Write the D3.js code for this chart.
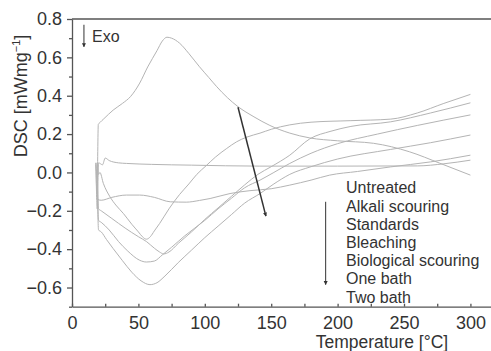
<!DOCTYPE html>
<html>
<head>
<meta charset="utf-8">
<style>
  body { margin: 0; background: #fff; }
  text { font-family: "Liberation Sans", Arial, sans-serif; fill: #333; }
</style>
</head>
<body>
<svg width="491" height="351"></svg>
<script src="https://d3js.org/d3.v7.min.js"></script>
<script>
// DSC curves, [temperature, value]
var untreated = [[18,0.05],[19,-0.03],[19.8,0.25],[21,0.26],[24,0.28],[31,0.325],[38,0.36],[44,0.395],[51,0.466],[57,0.55],[64,0.635],[68,0.685],[71.5,0.705],[75,0.70],[81,0.674],[88,0.62],[96,0.551],[103,0.495],[109,0.447],[117,0.39],[125,0.343],[137,0.29],[149,0.245],[164,0.205],[179,0.18],[200,0.165],[227,0.152],[254,0.108],[277,0.048],[300,-0.014]];
var alkali = [[18,0.05],[19,-0.19],[20,0.05],[23,0.04],[25,0.075],[28,0.062],[35,0.05],[41,0.047],[60,0.042],[90,0.038],[141,0.033],[200,0.033],[260,0.034],[280,0.045],[300,0.064]];
var standards = [[18,0.04],[19,-0.14],[22,-0.145],[30,-0.13],[41,-0.118],[51,-0.118],[62,-0.13],[74,-0.153],[86,-0.155],[96,-0.146],[104,-0.136],[119,-0.11],[134,-0.095],[150,-0.085],[164,-0.066],[180,-0.04],[194,-0.014],[215,0.005],[240,0.029],[270,0.055],[300,0.09]];
var bleaching = [[19,0.05],[20,-0.01],[21,0.0],[23.6,-0.057],[28.6,-0.127],[33,-0.17],[38.7,-0.214],[45,-0.27],[50,-0.31],[53,-0.335],[56,-0.348],[59,-0.335],[62,-0.305],[66,-0.266],[73,-0.19],[81,-0.115],[88,-0.06],[94,-0.01],[101,0.035],[108,0.08],[116.5,0.125],[124,0.16],[131.5,0.184],[141.6,0.205],[150,0.225],[164,0.248],[180,0.262],[210,0.27],[240,0.278],[260,0.31],[280,0.36],[300,0.407]];
var biological = [[19,0.0],[20,-0.19],[22,-0.2],[30,-0.24],[40,-0.29],[50,-0.335],[56,-0.36],[62,-0.395],[66,-0.415],[69,-0.425],[73,-0.415],[80,-0.37],[90,-0.31],[100,-0.245],[110,-0.185],[120,-0.125],[130,-0.065],[140,-0.01],[150,0.03],[164,0.09],[179,0.175],[195,0.215],[210,0.24],[240,0.264],[270,0.31],[300,0.363]];
var oneBath = [[19,-0.02],[20,-0.25],[22,-0.26],[28,-0.3],[35,-0.36],[42,-0.41],[51,-0.458],[56,-0.467],[62,-0.462],[68,-0.43],[75,-0.39],[85,-0.33],[100,-0.25],[110,-0.19],[120,-0.135],[130,-0.08],[141.6,-0.04],[152,0.0],[164,0.047],[180,0.1],[200,0.15],[230,0.2],[260,0.245],[300,0.3]];
var twoBath = [[19,-0.05],[20,-0.3],[22,-0.31],[26,-0.35],[31,-0.397],[38,-0.46],[45,-0.52],[52,-0.565],[58.7,-0.585],[64,-0.575],[70,-0.54],[80,-0.47],[90,-0.405],[100,-0.34],[110,-0.28],[120,-0.22],[130,-0.16],[141.6,-0.11],[152,-0.06],[164,-0.01],[180,0.03],[200,0.07],[240,0.12],[270,0.155],[300,0.195]];

var series = [untreated, alkali, standards, bleaching, biological, oneBath, twoBath];
var legendLabels = ["Untreated", "Alkali scouring", "Standards", "Bleaching", "Biological scouring", "One bath", "Two bath"];

var xMajor = [0, 50, 100, 150, 200, 250, 300];
var xMinor = [25, 75, 125, 175, 225, 275];
var yMajor = [-0.6, -0.4, -0.2, 0.0, 0.2, 0.4, 0.6, 0.8];
var yMinor = [-0.7, -0.5, -0.3, -0.1, 0.1, 0.3, 0.5, 0.7];

// arrows (data units)
var trendArrow = [[125, 0.34], [146, -0.228]];
var legendArrow = [[191, -0.153], [191, -0.585]];
var exoArrow = [[9, 0.77], [9, 0.655]];

var svg = d3.select("svg");

var x = d3.scaleLinear().domain([0, 315.5]).range([72, 491]);
var y = d3.scaleLinear().domain([-0.7, 0.8]).range([306.7, 19]);

var defs = svg.append("defs");
defs.append("marker")
    .attr("id", "head")
    .attr("viewBox", "0 0 10 10")
    .attr("refX", 9).attr("refY", 5)
    .attr("markerWidth", 4).attr("markerHeight", 5)
    .attr("markerUnits", "userSpaceOnUse")
    .attr("orient", "auto")
  .append("path")
    .attr("d", "M0,0L10,5L0,10z")
    .attr("fill", "#333");

// curves
var line = d3.line()
    .x(function(d){ return x(d[0]); })
    .y(function(d){ return y(d[1]); })
    .curve(d3.curveMonotoneX);

svg.append("g").selectAll("path")
    .data(series)
  .enter().append("path")
    .attr("d", line)
    .attr("fill", "none")
    .attr("stroke", "#b4b4b4")
    .attr("stroke-width", 1);

// axes
var yAxis = svg.append("g")
    .attr("transform", "translate(" + x(0) + ",0)")
    .call(d3.axisLeft(y).tickValues(yMajor).tickFormat(d3.format(".1f"))
        .tickSizeInner(5).tickSizeOuter(0).tickPadding(5));
svg.append("g")
    .attr("transform", "translate(" + x(0) + ",0)")
    .call(d3.axisLeft(y).tickValues(yMinor).tickFormat("").tickSizeInner(3).tickSizeOuter(0))
    .select(".domain").remove();

var xAxis = svg.append("g")
    .attr("transform", "translate(0," + y(-0.7) + ")")
    .call(d3.axisBottom(x).tickValues(xMajor).tickSizeInner(-3).tickSizeOuter(0).tickPadding(9.5));
svg.append("g")
    .attr("transform", "translate(0," + y(-0.7) + ")")
    .call(d3.axisBottom(x).tickValues(xMinor).tickFormat("").tickSizeInner(-3).tickSizeOuter(0))
    .select(".domain").remove();

svg.selectAll(".domain, .tick line").attr("stroke", "#555").attr("stroke-width", 1.3);
yAxis.selectAll("text").attr("font-size", 18).attr("fill", "#333")
    .style("font-family", "'Liberation Sans', Arial, sans-serif");
xAxis.selectAll("text").attr("font-size", 18).attr("fill", "#333")
    .style("font-family", "'Liberation Sans', Arial, sans-serif");

// top frame
svg.append("line")
    .attr("x1", x(0)).attr("x2", x.range()[1])
    .attr("y1", y(0.8)).attr("y2", y(0.8))
    .attr("stroke", "#555").attr("stroke-width", 1.3);

// axis titles
svg.append("text")
    .attr("x", 382).attr("y", 348)
    .attr("text-anchor", "middle")
    .attr("font-size", 17.5)
    .text("Temperature [°C]");

var yt = svg.append("text")
    .attr("transform", "translate(27,96) rotate(-90)")
    .attr("text-anchor", "middle")
    .attr("font-size", 18);
yt.append("tspan").text("DSC [mWmg");
yt.append("tspan").attr("font-size", 11).attr("dy", -7).text("−1");
yt.append("tspan").attr("dy", 7).text("]");

// arrows
function arrow(pts, w) {
  svg.append("line")
      .attr("x1", x(pts[0][0])).attr("y1", y(pts[0][1]))
      .attr("x2", x(pts[1][0])).attr("y2", y(pts[1][1]))
      .attr("stroke", "#333").attr("stroke-width", w)
      .attr("marker-end", "url(#head)");
}
arrow(trendArrow, 1.5);
arrow(legendArrow, 1);
arrow(exoArrow, 1);

svg.append("text")
    .attr("x", 92).attr("y", 42)
    .attr("font-size", 16)
    .text("Exo");

// legend
svg.append("g").selectAll("text")
    .data(legendLabels)
  .enter().append("text")
    .attr("x", 346)
    .attr("y", function(d, i){ return 193.3 + i * 18.2; })
    .attr("font-size", 16)
    .text(function(d){ return d; });
</script>
</body>
</html>
